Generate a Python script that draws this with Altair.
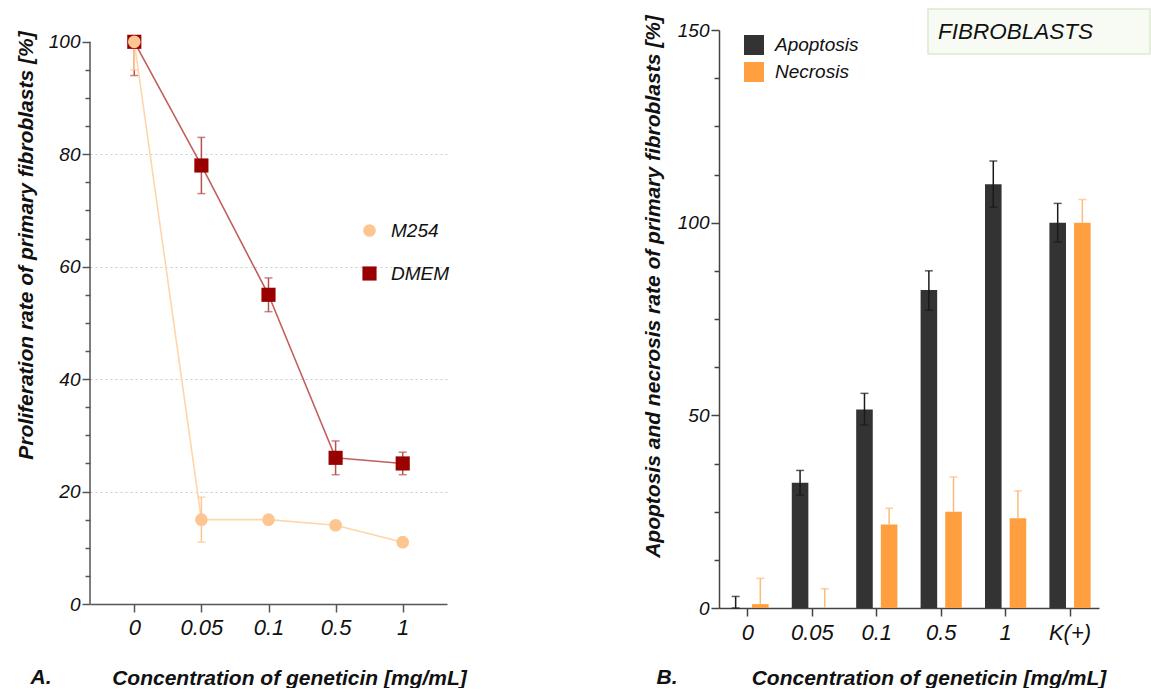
import altair as alt
import pandas as pd

# ---------------- data: panel A ----------------
conc = ["0", "0.05", "0.1", "0.5", "1"]
m254 = [100, 15, 15, 14, 11]
m254_lo = [95, 11, 15, 14, 11]
m254_hi = [100, 19, 15, 14, 11]
dmem = [100, 78, 55, 26, 25]
dmem_lo = [94, 73, 52, 23, 23]
dmem_hi = [100, 83, 58, 29, 27]
series = ["M254", "DMEM"]

# ---------------- data: panel B ----------------
groups = ["0", "0.05", "0.1", "0.5", "1", "K(+)"]
types = ["Apoptosis", "Necrosis"]
apoptosis = [0, 32.5, 51.5, 82.5, 110, 100]
apoptosis_lo = [0, 29.3, 47.5, 77.3, 104, 95]
apoptosis_hi = [3, 35.7, 55.7, 87.5, 116, 105]
necrosis = [1, 0, 21.7, 25, 23.3, 100]
necrosis_hi = [7.7, 5, 25.9, 34, 30.4, 106]

FONT = "Liberation Sans, Arial, sans-serif"
NOVIEW = alt.ViewBackground(stroke="transparent", strokeWidth=0)

# ---------- panel A ----------
dfa = pd.DataFrame({
    "series": ["DMEM"] * 5 + ["M254"] * 5,
    "conc": conc + conc,
    "value": dmem + m254,
    "lo": dmem_lo + m254_lo,
    "hi": dmem_hi + m254_hi,
})

W_A, H_A = 357, 574
xa_scale = alt.Scale(type="point", padding=0.66)
ya_scale = alt.Scale(domain=[0, 102.1], nice=False, zero=False)

leg_a = alt.Legend(title=None, orient="none", legendX=270, legendY=191,
                   symbolSize=240, rowPadding=23, labelOffset=12,
                   labelFont=FONT, labelFontSize=19, labelFontStyle="italic",
                   labelColor="#111", padding=0)

base_a = alt.Chart(dfa)

points_a = base_a.mark_point(filled=True, opacity=1).encode(
    x=alt.X("conc:N", sort=conc, scale=xa_scale,
            axis=alt.Axis(labelAngle=0, tickSize=8, tickColor="#555", domainColor="#555",
                          domainWidth=1.5, tickWidth=1.5,
                          labelFont=FONT, labelFontSize=22, labelFontStyle="italic",
                          labelColor="#111", labelPadding=5,
                          title="Concentration of geneticin [mg/mL]",
                          titleFont=FONT, titleFontSize=21, titleFontStyle="italic",
                          titleFontWeight="bold", titleColor="#111",
                          titleX=199, titleY=74, titleAlign="center", titleBaseline="middle")),
    y=alt.Y("value:Q", scale=ya_scale,
            axis=alt.Axis(values=list(range(0, 101, 5)),
                          labelExpr="datum.value % 20 === 0 ? datum.label : ''",
                          labelOverlap=False,
                          tickSize={"condition": {"test": "datum.value % 20 === 0", "value": 8}, "value": 5},
                          tickColor="#555", tickWidth=1.5, domain=False,
                          grid=True, gridDash=[2, 3], gridColor="#cccccc",
                          gridOpacity={"condition": {"test": "datum.value % 20 === 0 && datum.value > 0 && datum.value < 100", "value": 1}, "value": 0},
                          labelFont=FONT, labelFontSize=19, labelFontStyle="italic",
                          labelColor="#111", labelPadding=2,
                          title="Proliferation rate of primary fibroblasts [%]",
                          titleFont=FONT, titleFontSize=21, titleFontStyle="italic",
                          titleFontWeight="bold", titleColor="#111",
                          titleX=-64, titleY=215, titleAlign="center", titleBaseline="middle")),
    color=alt.Color("series:N", scale=alt.Scale(domain=series, range=["#FDC590", "#990000"]), legend=leg_a),
    shape=alt.Shape("series:N", scale=alt.Scale(domain=series, range=["circle", "square"]), legend=leg_a),
    size=alt.Size("series:N", scale=alt.Scale(domain=series, range=[160, 200]), legend=None),
)


def series_layers(name, line_col, err_col):
    b = base_a.transform_filter(alt.datum.series == name)
    line = b.mark_line(color=line_col, strokeWidth=1.6).encode(
        x=alt.X("conc:N", sort=conc, axis=None),
        y=alt.Y("value:Q", axis=None),
    )
    rule = b.mark_rule(color=err_col, strokeWidth=1.5).encode(
        x=alt.X("conc:N", sort=conc, axis=None),
        y=alt.Y("lo:Q", axis=None),
        y2="hi:Q",
    )
    cap_lo = b.mark_tick(color=err_col, size=8, thickness=1.5).encode(
        x=alt.X("conc:N", sort=conc, axis=None),
        y=alt.Y("lo:Q", axis=None),
    )
    cap_hi = b.mark_tick(color=err_col, size=8, thickness=1.5).encode(
        x=alt.X("conc:N", sort=conc, axis=None),
        y=alt.Y("hi:Q", axis=None),
    )
    return [line, rule, cap_lo, cap_hi]


axis_line_a = alt.Chart(pd.DataFrame({"a": [0], "b": [100]})).mark_rule(
    color="#555", strokeWidth=1.5).encode(
    y=alt.Y("a:Q", axis=None), y2="b:Q", x=alt.value(0))

label_a = alt.Chart(pd.DataFrame({"t": ["A."]})).mark_text(
    font=FONT, fontSize=21, fontStyle="italic", fontWeight="bold", color="#111",
    align="center", baseline="middle").encode(
    text="t:N", x=alt.value(-49), y=alt.value(648))

left = alt.layer(
    axis_line_a,
    *series_layers("DMEM", "#C0605E", "#B85050"),
    *series_layers("M254", "#FFD6AA", "#FDC590"),
    points_a,
    label_a,
).resolve_axis(x="independent", y="independent").properties(
    width=W_A, height=H_A, view=NOVIEW)

# ---------- panel B ----------
dfb = pd.DataFrame({
    "group": groups + groups,
    "type": ["Apoptosis"] * 6 + ["Necrosis"] * 6,
    "value": apoptosis + necrosis,
    "lo": apoptosis_lo + necrosis,
    "hi": apoptosis_hi + necrosis_hi,
})

W_B, H_B = 380, 578
xb_scale = alt.Scale(paddingInner=0.36, paddingOuter=0.13)
off_scale = alt.Scale(domain=types, paddingInner=0.327)
yb_scale = alt.Scale(domain=[0, 150], nice=False)

leg_b = alt.Legend(title=None, orient="none", legendX=25, legendY=5,
                   symbolType="square", symbolSize=400, symbolStrokeWidth=0,
                   rowPadding=7, labelOffset=11,
                   labelFont=FONT, labelFontSize=19, labelFontStyle="italic",
                   labelColor="#111", padding=0)

base_b = alt.Chart(dfb)

bars = base_b.mark_bar().encode(
    x=alt.X("group:N", sort=groups, scale=xb_scale,
            axis=alt.Axis(labelAngle=0, tickSize=8, tickColor="#444", domainColor="#444",
                          domainWidth=1.5, tickWidth=1.5,
                          labelFont=FONT, labelFontSize=22, labelFontStyle="italic",
                          labelColor="#111", labelPadding=6,
                          title="Concentration of geneticin [mg/mL]",
                          titleFont=FONT, titleFontSize=21, titleFontStyle="italic",
                          titleFontWeight="bold", titleColor="#111",
                          titleX=209.5, titleY=70, titleAlign="center", titleBaseline="middle")),
    xOffset=alt.XOffset("type:N", scale=off_scale),
    y=alt.Y("value:Q", scale=yb_scale,
            axis=alt.Axis(values=[i * 12.5 for i in range(13)],
                          labelExpr="datum.value % 50 === 0 ? datum.label : ''",
                          labelOverlap=False,
                          tickSize={"condition": {"test": "datum.value % 50 === 0", "value": 8}, "value": 5},
                          tickColor="#444", tickWidth=1.5, domainColor="#444", domainWidth=1.5,
                          grid=False,
                          labelFont=FONT, labelFontSize=19, labelFontStyle="italic",
                          labelColor="#111", labelPadding=2,
                          title="Apoptosis and necrosis rate of primary fibroblasts [%]",
                          titleFont=FONT, titleFontSize=21, titleFontStyle="italic",
                          titleFontWeight="bold", titleColor="#111",
                          titleX=-66, titleY=256, titleAlign="center", titleBaseline="middle")),
    color=alt.Color("type:N", scale=alt.Scale(domain=types, range=["#333333", "#FF9F3F"]), legend=leg_b),
)

apo = base_b.transform_filter(alt.datum.type == "Apoptosis")
nec = base_b.transform_filter(alt.datum.type == "Necrosis")


def enc_x():
    return dict(x=alt.X("group:N", sort=groups, axis=None),
                xOffset=alt.XOffset("type:N", scale=off_scale))


apo_rule = apo.mark_rule(color="#1a1a1a", strokeWidth=1.5).encode(
    **enc_x(), y=alt.Y("lo:Q", axis=None), y2="hi:Q")
apo_cap_lo = apo.mark_tick(color="#1a1a1a", size=8, thickness=1.5).encode(
    **enc_x(), y=alt.Y("lo:Q", axis=None))
apo_cap_hi = apo.mark_tick(color="#1a1a1a", size=8, thickness=1.5).encode(
    **enc_x(), y=alt.Y("hi:Q", axis=None))
nec_rule = nec.mark_rule(color="#FDBB7A", strokeWidth=1.5).encode(
    **enc_x(), y=alt.Y("value:Q", axis=None), y2="hi:Q")
nec_cap_hi = nec.mark_tick(color="#FDBB7A", size=8, thickness=1.5).encode(
    **enc_x(), y=alt.Y("hi:Q", axis=None))

box = alt.Chart(pd.DataFrame({"t": ["FIBROBLASTS"]})).mark_rect(
    fill="#F7FBF3", stroke="#DCEBD0", strokeWidth=1.5).encode(
    x=alt.value(209), x2=alt.value(431), y=alt.value(-21), y2=alt.value(24))
box_text = alt.Chart(pd.DataFrame({"t": ["FIBROBLASTS"]})).mark_text(
    font=FONT, fontSize=22.5, fontStyle="italic", color="#111",
    align="left", baseline="middle").encode(
    text="t:N", x=alt.value(219), y=alt.value(2))

label_b = alt.Chart(pd.DataFrame({"t": ["B."]})).mark_text(
    font=FONT, fontSize=21, fontStyle="italic", fontWeight="bold", color="#111",
    align="center", baseline="middle").encode(
    text="t:N", x=alt.value(-52), y=alt.value(648))

right = alt.layer(
    bars, apo_rule, apo_cap_lo, apo_cap_hi, nec_rule, nec_cap_hi, box, box_text, label_b,
).resolve_axis(x="independent", y="independent").properties(
    width=W_B, height=H_B, view=NOVIEW)

chart = alt.hconcat(left, right, spacing=272, bounds="flush").resolve_scale(
    color="independent", shape="independent", size="independent"
).properties(
    padding={"left": 14, "top": 8, "right": 0, "bottom": 0},
    background="white",
).configure(
    view=alt.ViewConfig(stroke="transparent", strokeWidth=0),
    style={"cell": {"stroke": "transparent", "strokeWidth": 0}},
)

chart.save("out.html", embed_options={"renderer": "svg", "actions": False})
